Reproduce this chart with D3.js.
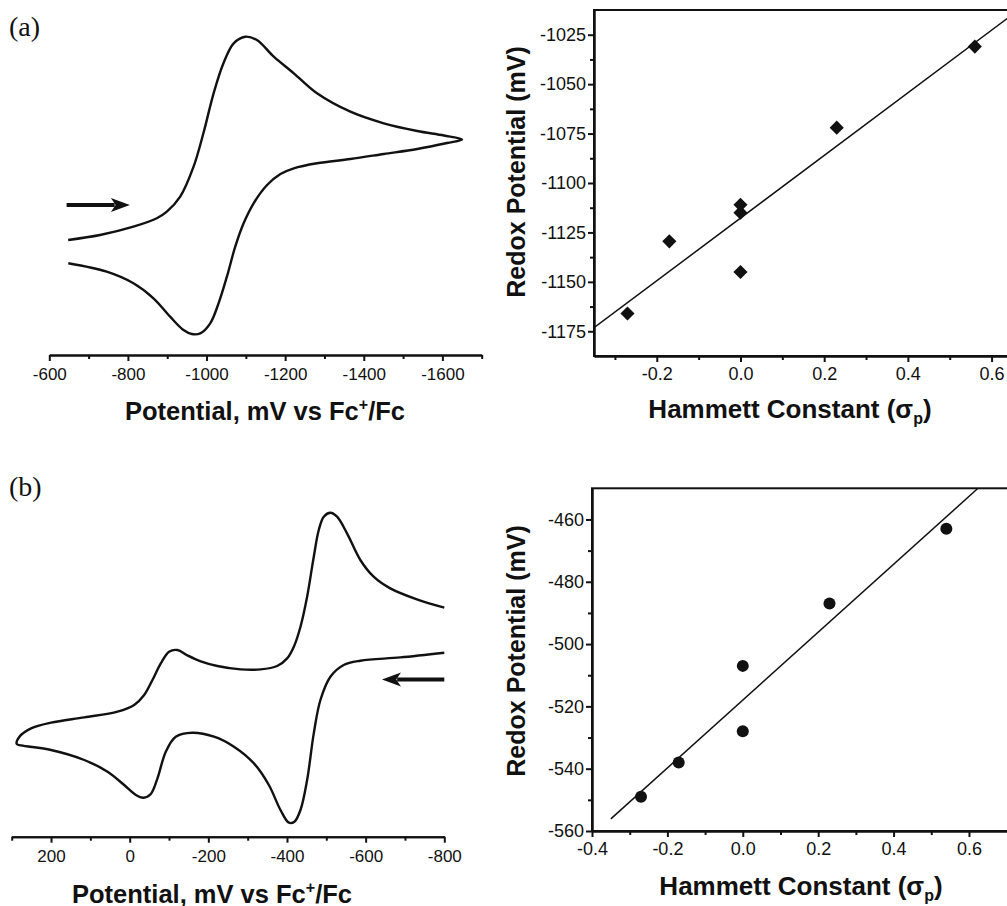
<!DOCTYPE html>
<html>
<head>
<meta charset="utf-8">
<script src="https://cdn.jsdelivr.net/npm/d3@7"></script>
<style>
  body { margin: 0; background: #fff; }
</style>
</head>
<body>
<script>
// ---- cyclic voltammogram (a): [potential mV, current arb.]
const cvA = [
  [-648, 11.5], [-729, 12.0], [-814, 12.83], [-873.5, 13.67], [-899, 14.33], [-933, 15.83],
  [-967, 18.83], [-992, 22.17], [-1018, 26.17], [-1043, 29.17], [-1069, 31.17], [-1098.5, 31.83],
  [-1128, 31.5], [-1171, 29.83], [-1222, 28.17], [-1281, 26.17], [-1366, 24.33], [-1451, 23.17],
  [-1536, 22.4], [-1604, 21.95], [-1650, 21.55],
  [-1612, 21.2], [-1536, 20.6], [-1451, 20.1], [-1366, 19.6], [-1281, 19.17], [-1222, 18.67],
  [-1188, 18.1], [-1154, 17], [-1119.8, 15.17], [-1094.3, 13.17], [-1073, 10.83],
  [-1051.8, 7.83], [-1030.6, 5.17], [-1009.4, 3.17], [-984, 2.17], [-962.6, 2.1], [-941.4, 2.5],
  [-907.4, 3.83], [-865, 5.67], [-814, 7.17], [-746, 8.33], [-648.4, 9.17]
];
const arrowA = [[-644, 15], [-805, 15]];

// ---- cyclic voltammogram (b)
const cvB = [
  [-800, 22.9], [-730.3, 23.73], [-662.6, 24.83], [-620.3, 26], [-586.5, 27.67], [-552.7, 30.33],
  [-527.3, 32], [-510.4, 32.4], [-493.5, 32], [-480.8, 30.67], [-468.1, 28], [-451.2, 24],
  [-434.3, 21], [-417.4, 19], [-400.4, 17.83], [-375, 17.07], [-332.8, 16.73], [-282, 16.73],
  [-222.9, 17.07], [-180.6, 17.53], [-146.7, 18.13], [-121.4, 18.67], [-100.2, 18.5], [-79.1, 17.33],
  [-57.9, 15.67], [-36.8, 14.17], [-11.4, 13.17], [30.9, 12.5], [115.4, 11.93], [200, 11.4],
  [250.7, 10.83], [280.3, 10], [287.1, 9.27],
  [276, 9.13], [200, 8.67], [115.4, 7.67], [56.2, 6.5], [14, 5.17], [-15.7, 4.17], [-35.1, 3.9],
  [-53.7, 4.27], [-70.6, 5.83], [-91.8, 8.5], [-117.1, 10], [-159.4, 10.4], [-214.4, 10],
  [-265.1, 9], [-315.9, 7.33], [-353.9, 5.17], [-383.5, 2.67], [-405, 1.4], [-419, 1.5],
  [-434.3, 2.67], [-451.2, 5.67], [-468.1, 10.33], [-485, 13.67], [-510.4, 16], [-544.2, 17.17],
  [-586.5, 17.6], [-688, 17.93], [-800, 18.4]
];
const arrowB = [[-800, 15.73], [-641.5, 15.73]];

// ---- Hammett plots
const sigmaA = [-0.27, -0.17, 0, 0, 0, 0.23, 0.56];
const redoxA = [-1166, -1129.5, -1111, -1115, -1145, -1072, -1031];
const fitA = [[-0.35, -1173.2], [0.65, -1014.8]];

const sigmaB = [-0.27, -0.17, 0, 0, 0.23, 0.54];
const redoxB = [-549, -538, -507, -528, -487, -463];
const fitB = [[-0.35, -556.1], [0.624, -450]];

const SANS = "'Liberation Sans', Arial, sans-serif";
const W = 1007, H = 906;
const svg = d3.select("body").append("svg")
  .attr("width", W).attr("height", H)
  .attr("viewBox", [0, 0, W, H])
  .style("font-family", SANS);
svg.append("rect").attr("width", W).attr("height", H).attr("fill", "#fff");

function styleAxis(g, fontSize) {
  g.select(".domain").attr("stroke", "#111").attr("stroke-width", 2);
  g.selectAll(".tick line").attr("stroke", "#111").attr("stroke-width", 2);
  g.selectAll(".tick text")
    .style("font-family", SANS)
    .attr("font-size", fontSize).attr("fill", "#111");
}

function bottomAxis(x, y0, majors, minors, fmt, fs, pad) {
  svg.append("g").attr("transform", `translate(0,${y0})`)
    .call(d3.axisBottom(x).tickValues(minors).tickSize(4).tickSizeOuter(0).tickFormat(""))
    .call(g => styleAxis(g, fs));
  svg.append("g").attr("transform", `translate(0,${y0})`)
    .call(d3.axisBottom(x).tickValues(majors).tickSize(6).tickSizeOuter(0).tickPadding(pad).tickFormat(fmt))
    .call(g => styleAxis(g, fs));
}

function leftAxis(y, x0, majors, minors, fs) {
  svg.append("g").attr("transform", `translate(${x0},0)`)
    .call(d3.axisLeft(y).tickValues(minors).tickSize(4).tickSizeOuter(0).tickFormat(""))
    .call(g => styleAxis(g, fs));
  svg.append("g").attr("transform", `translate(${x0},0)`)
    .call(d3.axisLeft(y).tickValues(majors).tickSize(6).tickSizeOuter(0).tickPadding(2).tickFormat(d => String(d)))
    .call(g => styleAxis(g, fs));
}

function arrow(x, y, pts, color) {
  const [p0, p1] = pts.map(p => [x(p[0]), y(p[1])]);
  const dir = Math.sign(p1[0] - p0[0]);
  const headL = 19, headW = 7;
  svg.append("line")
    .attr("x1", p0[0]).attr("y1", p0[1])
    .attr("x2", p1[0] - dir * headL * 0.8).attr("y2", p1[1])
    .attr("stroke", color).attr("stroke-width", 4);
  svg.append("path")
    .attr("d", `M${p1[0]},${p1[1]} L${p1[0] - dir * headL},${p1[1] - headW} L${p1[0] - dir * headL * 0.75},${p1[1]} L${p1[0] - dir * headL},${p1[1] + headW}Z`)
    .attr("fill", color);
}

const cvLine = (x, y) => d3.line()
  .x(d => x(d[0])).y(d => y(d[1]))
  .curve(d3.curveCatmullRom.alpha(0.5));

function xTitle(cx, by) {
  const t = svg.append("text")
    .attr("x", cx).attr("y", by)
    .attr("text-anchor", "middle").attr("fill", "#111")
    .attr("font-size", 25.5).attr("font-weight", "bold");
  t.append("tspan").text("Potential, mV vs Fc");
  t.append("tspan").attr("font-size", 16).attr("dy", -10).text("+");
  t.append("tspan").attr("dy", 10).text("/Fc");
}

function hammettTitle(cx, by) {
  const t = svg.append("text")
    .attr("x", cx).attr("y", by)
    .attr("text-anchor", "middle").attr("fill", "#111")
    .attr("font-size", 26).attr("font-weight", "bold");
  t.append("tspan").text("Hammett Constant (σ");
  t.append("tspan").attr("font-size", 16).attr("dy", 6).text("p");
  t.append("tspan").attr("dy", -6).text(")");
}

function yTitle(x, cy) {
  svg.append("text")
    .attr("transform", `translate(${x},${cy}) rotate(-90)`)
    .attr("text-anchor", "middle").attr("fill", "#111")
    .attr("font-size", 25).attr("font-weight", "bold")
    .text("Redox Potential (mV)");
}

function panelLabel(x, y, s) {
  svg.append("text").attr("x", x).attr("y", y)
    .style("font-family", "'Liberation Serif', 'Times New Roman', serif")
    .attr("font-size", 28).attr("fill", "#111").text(s);
}

// ================= (a) CV =================
const xA = d3.scaleLinear().domain([-600, -1700]).range([49.3, 481.7]);
const yA = d3.scaleLinear().domain([0, 35.5]).range([355, 0]);
bottomAxis(xA, 355, d3.range(-600, -1601, -200), d3.range(-700, -1701, -200), d => String(d), 17, 7);
svg.append("path").datum(cvA)
  .attr("d", cvLine(xA, yA))
  .attr("fill", "none").attr("stroke", "#111").attr("stroke-width", 2.4);
arrow(xA, yA, arrowA, "#111");
xTitle(265, 420);
panelLabel(9, 36, "(a)");

// ================= (b) CV =================
const xB = d3.scaleLinear().domain([300, -800]).range([11.7, 444.3]);
const yB = d3.scaleLinear().domain([0, 36]).range([836.7, 476.7]);
bottomAxis(xB, 836.7, d3.range(200, -801, -200), d3.range(300, -701, -200), d => String(d), 17, 7);
svg.append("path").datum(cvB)
  .attr("d", cvLine(xB, yB))
  .attr("fill", "none").attr("stroke", "#111").attr("stroke-width", 2.4);
arrow(xB, yB, arrowB, "#111");
xTitle(212, 903);
panelLabel(9, 496, "(b)");

// ================= (a) Hammett =================
const hxA = d3.scaleLinear().domain([-0.35, 0.65]).range([594, 1012.5]);
const hyA = d3.scaleLinear().domain([-1187.5, -1012.5]).range([356, 10]);
svg.append("rect").attr("x", 594).attr("y", 10).attr("width", 418.5).attr("height", 346)
  .attr("fill", "none").attr("stroke", "#111").attr("stroke-width", 2);
const clipA = svg.append("clipPath").attr("id", "clipA");
clipA.append("rect").attr("x", 594).attr("y", 10).attr("width", 418.5).attr("height", 346);
svg.append("path").datum(fitA)
  .attr("clip-path", "url(#clipA)")
  .attr("d", d3.line().x(d => hxA(d[0])).y(d => hyA(d[1])))
  .attr("stroke", "#111").attr("stroke-width", 1.5).attr("fill", "none");
svg.append("g").selectAll("path")
  .data(d3.zip(sigmaA, redoxA))
  .join("path")
  .attr("transform", d => `translate(${hxA(d[0])},${hyA(d[1])}) rotate(45)`)
  .attr("d", d3.symbol(d3.symbolSquare, 100))
  .attr("fill", "#111");
bottomAxis(hxA, 356, [-0.2, 0, 0.2, 0.4, 0.6], [-0.3, -0.1, 0.1, 0.3, 0.5], d => d.toFixed(1), 18, 5);
leftAxis(hyA, 594, d3.range(-1025, -1176, -25), d3.range(-1037.5, -1163, -25), 18);
yTitle(525, 172);
hammettTitle(790, 418);

// ================= (b) Hammett =================
const hxB = d3.scaleLinear().domain([-0.4, 0.72]).range([592, 1014.2]);
const hyB = d3.scaleLinear().domain([-560, -450]).range([831, 488.3]);
svg.append("rect").attr("x", 592).attr("y", 488.3).attr("width", 422.2).attr("height", 342.7)
  .attr("fill", "none").attr("stroke", "#111").attr("stroke-width", 2);
svg.append("path").datum(fitB)
  .attr("d", d3.line().x(d => hxB(d[0])).y(d => hyB(d[1])))
  .attr("stroke", "#111").attr("stroke-width", 1.5).attr("fill", "none");
svg.append("g").selectAll("circle")
  .data(d3.zip(sigmaB, redoxB))
  .join("circle")
  .attr("cx", d => hxB(d[0])).attr("cy", d => hyB(d[1]))
  .attr("r", 6).attr("fill", "#111");
bottomAxis(hxB, 831, [-0.4, -0.2, 0, 0.2, 0.4, 0.6], [-0.3, -0.1, 0.1, 0.3, 0.5], d => d.toFixed(1), 18, 5);
leftAxis(hyB, 592, d3.range(-460, -561, -20), d3.range(-470, -551, -20), 18);
yTitle(525, 651);
hammettTitle(801, 895);
</script>
</body>
</html>
